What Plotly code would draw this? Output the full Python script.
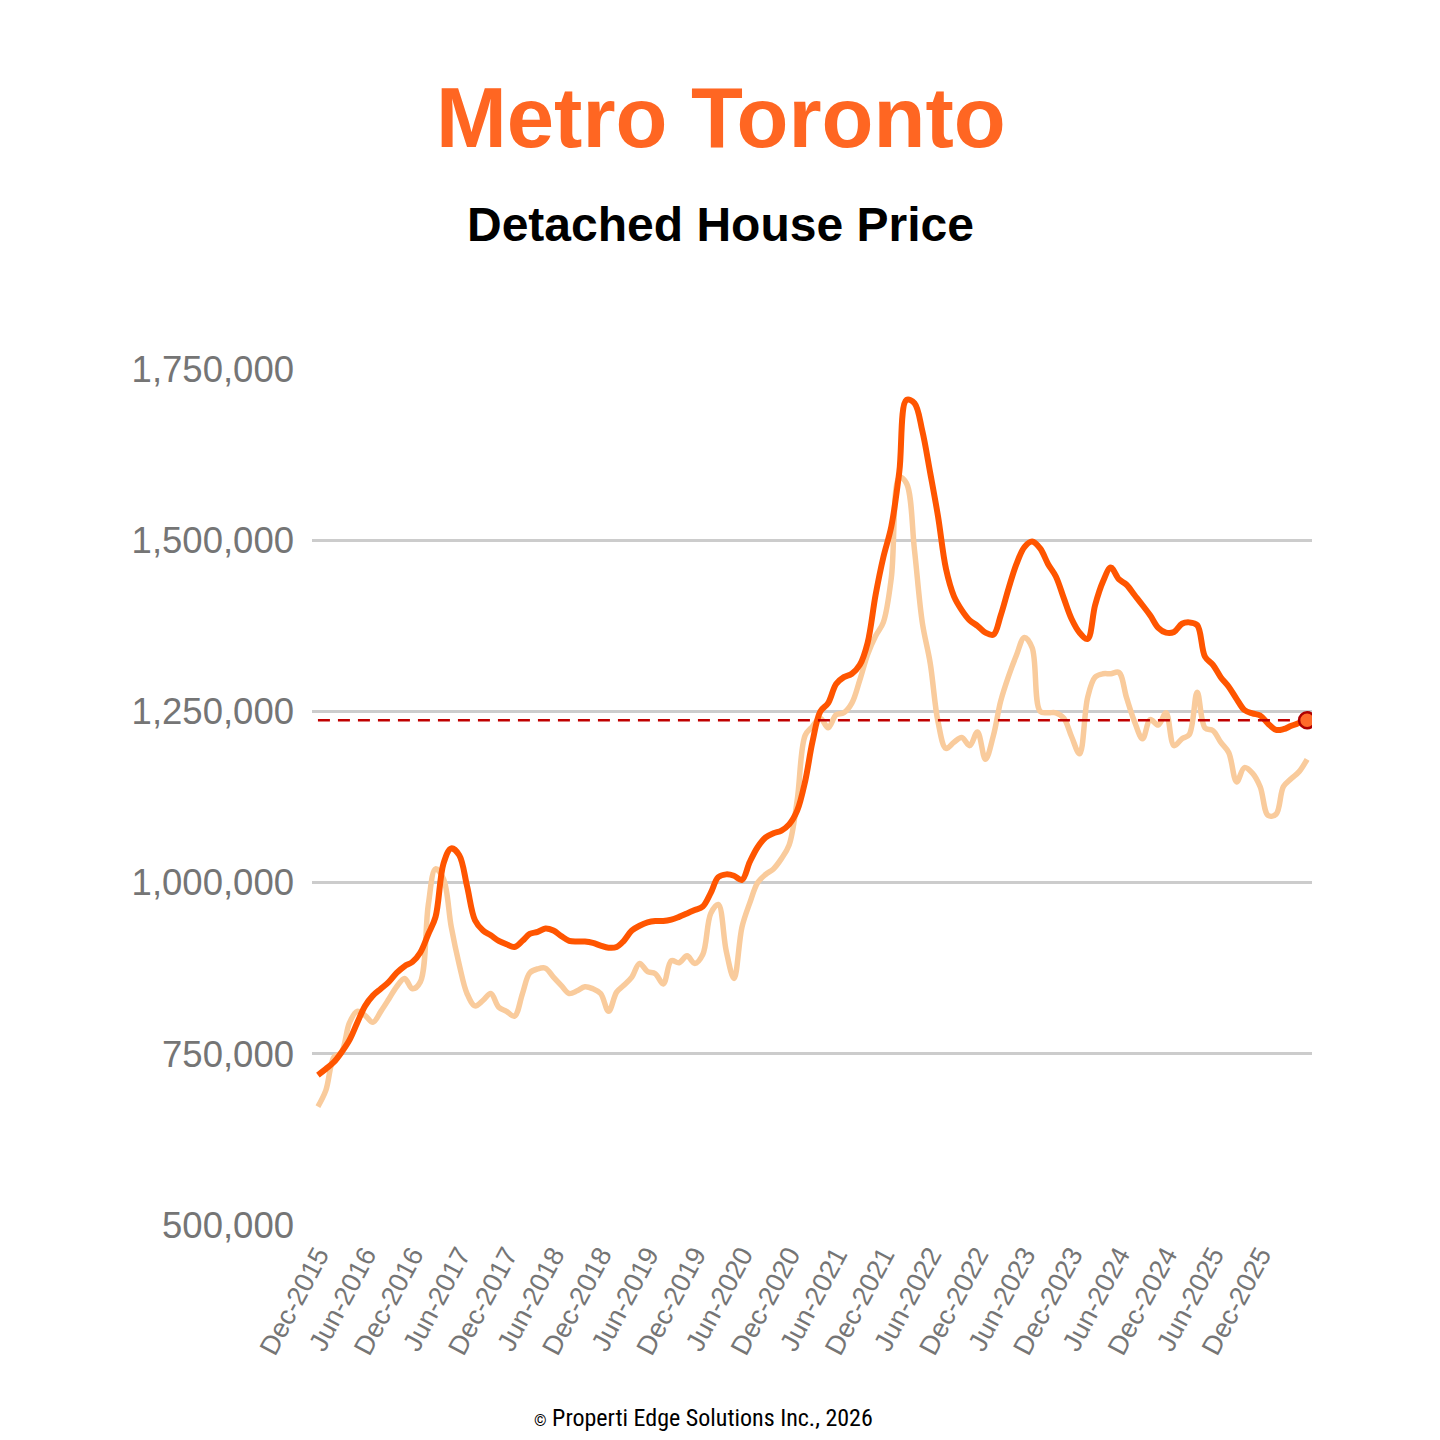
import pandas as pd
import plotly.graph_objects as go

# monthly, Dec-2015 onwards
months = pd.date_range("2015-12-01", periods=127, freq="MS")
tick_months = months[::6][:-1]  # Dec-2015 ... Dec-2025

# benchmark detached price (thousands of dollars)
benchmark = [
    719, 728, 738, 752, 770, 795, 820, 835, 845, 855, 868, 878,
    884, 898, 925, 950, 1028, 1050, 1040, 995, 945, 930, 923, 915,
    910, 906, 915, 925, 928, 933, 930, 922, 915, 914, 914, 912,
    908, 905, 906, 915, 930, 937, 942, 944, 944, 946, 950, 955,
    960, 965, 985, 1008, 1012, 1010, 1004, 1030, 1052, 1066, 1072, 1076,
    1085, 1105, 1148, 1205, 1250, 1262, 1290, 1300, 1305, 1318, 1350, 1420,
    1475, 1520, 1600, 1705, 1700, 1660, 1598, 1535, 1458, 1418, 1398, 1383,
    1375, 1365, 1362, 1390, 1430, 1465, 1490, 1498, 1488, 1465, 1447, 1415,
    1385, 1365, 1356, 1405, 1440, 1460, 1443, 1435, 1420, 1405, 1390, 1372,
    1365, 1366, 1378, 1380, 1376, 1330, 1318, 1300, 1286, 1268, 1252, 1247,
    1244, 1232, 1223, 1224, 1229, 1233, 1237,
]

# average sold price (thousands of dollars)
average = [
    673, 697, 745, 752, 795, 812, 806, 796, 812, 830, 848, 860,
    845, 855, 968, 1020, 1005, 935, 880, 838, 820, 828, 838, 818,
    812, 805, 838, 868, 874, 875, 862, 850, 838, 842, 848, 845,
    838, 812, 840, 850, 862, 882, 870, 867, 852, 886, 883, 893,
    882, 895, 955, 968, 900, 860, 935, 970, 1000, 1012, 1020, 1035,
    1055, 1120, 1215, 1228, 1240, 1226, 1245, 1248, 1262, 1296, 1333, 1360,
    1380, 1445, 1592, 1583, 1485, 1380, 1320, 1235, 1196, 1205, 1212, 1200,
    1220, 1180, 1215, 1265, 1302, 1332, 1358, 1343, 1250, 1248, 1248, 1240,
    1213, 1188, 1270, 1300, 1305, 1305, 1307, 1270, 1235, 1210, 1238, 1230,
    1248, 1200, 1210, 1216, 1278, 1226, 1222, 1205, 1190, 1147, 1168, 1160,
    1140, 1098, 1100, 1140, 1152, 1162, 1180,
]

benchmark = [v * 1000 for v in benchmark]
average = [v * 1000 for v in average]
latest = benchmark[-1]

fig = go.Figure()

fig.add_trace(go.Scatter(
    x=months, y=average, mode="lines",
    line=dict(color="#f9cb9c", width=5.5, shape="spline", smoothing=1.0),
    showlegend=False))

fig.add_trace(go.Scatter(
    x=months, y=benchmark, mode="lines",
    line=dict(color="#ff5500", width=6, shape="spline", smoothing=1.0),
    showlegend=False))

# latest-value reference line + end marker
fig.add_trace(go.Scatter(
    x=[months[0], months[-1]], y=[latest, latest], mode="lines",
    line=dict(color="#c00000", width=2.5, dash="12px,8px"),
    showlegend=False))

fig.add_trace(go.Scatter(
    x=[months[-1]], y=[latest], mode="markers",
    marker=dict(size=16, color="#ff6a2a", line=dict(color="#b00000", width=2.5)),
    showlegend=False))

fig.update_xaxes(
    type="date",
    range=[months[0] - pd.Timedelta(days=23), months[-1] + pd.Timedelta(days=19)],
    tickvals=tick_months, tickformat="%b-%Y",
    tickangle=-62, showgrid=False, showline=False, zeroline=False,
    ticklabelstandoff=8,
    tickfont=dict(family="Liberation Sans, Arial", size=27, color="#757575"),
)

fig.update_yaxes(
    range=[500000, 1750000], tickvals=[500000, 750000, 1000000, 1250000, 1500000, 1750000],
    tickformat=",d", showgrid=True, gridcolor="#cccccc", gridwidth=2.5,
    zeroline=False, showline=False, ticklabelstandoff=17,
    tickfont=dict(family="Liberation Sans, Arial", size=36.5, color="#757575"),
)

# page is drawn with an 8px body margin, so plot area (page px) = 312..1312 x 369..1225
fig.add_annotation(
    text="<b>Metro Toronto</b>", xref="paper", yref="paper",
    x=(721 - 312) / 1000, y=(1225 - 117) / 856, showarrow=False,
    xanchor="center", yanchor="middle",
    font=dict(family="Liberation Sans, Arial", size=85, color="#ff6622"))

fig.add_annotation(
    text="<b>Detached House Price</b>", xref="paper", yref="paper",
    x=(720 - 312) / 1000, y=(1225 - 224) / 856, showarrow=False,
    xanchor="center", yanchor="middle",
    font=dict(family="Liberation Sans, Arial", size=48, color="#000000"))

fig.add_annotation(
    text="<span style='font-size:16px'>©</span> Properti Edge Solutions Inc., 2026",
    xref="paper", yref="paper",
    x=(703 - 312) / 1000, y=(1225 - 1418) / 856, showarrow=False,
    xanchor="center", yanchor="middle",
    font=dict(family="Roboto Condensed, Roboto", size=24, color="#000000"))

fig.update_layout(
    width=1440, height=1440,
    margin=dict(l=304, r=136, t=361, b=223, autoexpand=False),
    paper_bgcolor="white", plot_bgcolor="white",
    hovermode=False,
)

fig.write_html("out.html")
